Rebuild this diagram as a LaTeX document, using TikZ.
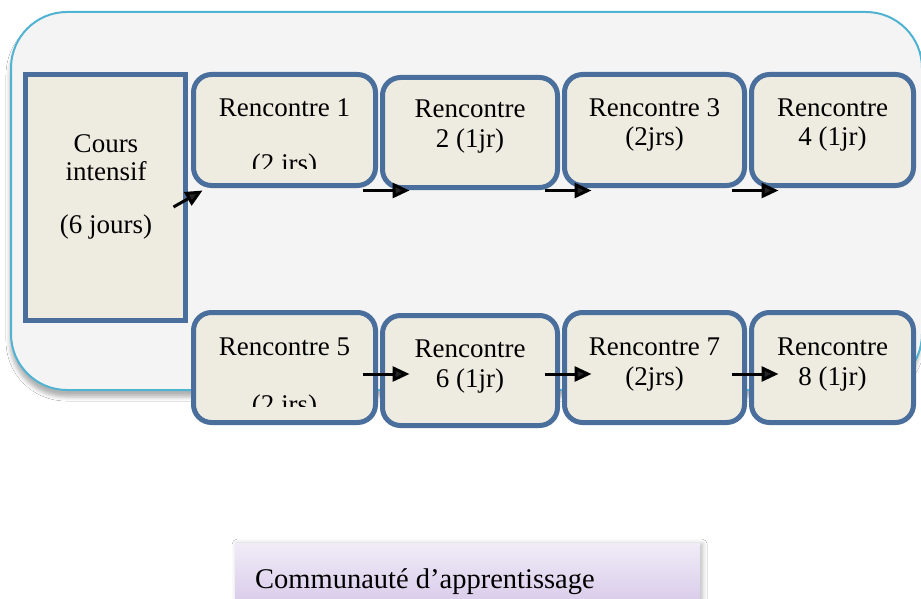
\documentclass[tikz,border=0pt]{standalone}
\usepackage{fontspec}
\setmainfont{Liberation Serif}
\usetikzlibrary{arrows.meta,shadows.blur}
\definecolor{frameblue}{HTML}{4A6F9C}
\definecolor{tanfill}{HTML}{EEECE1}
\definecolor{panelfill}{HTML}{F4F4F4}
\definecolor{panelline}{HTML}{4FB3D1}
\definecolor{lavtop}{HTML}{F0ECF7}
\definecolor{lavbot}{HTML}{D8C9EA}
\begin{document}
\begin{tikzpicture}[x=1pt,y=-1pt,
  stagebox/.style={draw=frameblue,fill=tanfill,line width=5pt,rounded corners=18pt,
    inner sep=0pt,minimum width=182pt,minimum height=111pt},
  lbl/.style={anchor=base,inner sep=0pt,font=\fontsize{27}{30}\selectfont},
  arr/.style={line width=3pt,-{Triangle[length=17pt,width=15pt]}}]
\useasboundingbox (0,0) rectangle (921,599);
\fill[white] (0,0) rectangle (921,599);

% background panel
\draw[panelline,fill=panelfill,line width=2pt,rounded corners=56pt,
  blur shadow={shadow xshift=-1pt,shadow yshift=-7pt,shadow blur radius=4pt,shadow opacity=30}]
  (11,12) rectangle (922,390);

% intensive course block
\node[draw=frameblue,fill=tanfill,line width=5pt,inner sep=0pt,
  minimum width=160pt,minimum height=246pt] (ci) at (105.5,197.5) {};

% meetings, first row
\node[stagebox] (r1) at (284.5,130) {};
\node[stagebox,minimum width=175pt,minimum height=110pt] (r2) at (470,132.5) {};
\node[stagebox,minimum width=180pt] (r3) at (654.5,130) {};
\node[stagebox,minimum width=162pt] (r4) at (832.5,130) {};
% meetings, second row
\node[stagebox,minimum height=110pt] (r5) at (284.5,367.5) {};
\node[stagebox,minimum width=175pt,minimum height=110pt] (r6) at (470,370.5) {};
\node[stagebox,minimum width=180pt,minimum height=110pt] (r7) at (654.5,367.5) {};
\node[stagebox,minimum width=162pt,minimum height=110pt] (r8) at (832.5,367.5) {};

% labels
\node[lbl] (ci1) at (106,153) {Cours};
\node[lbl] (ci2) at (106,180) {intensif};
\node[lbl] (ci3) at (106,233) {(6 jours)};

\node[lbl] (r1a) at (284.5,117) {Rencontre 1};
\begin{scope}
  \clip (195,140) rectangle (375,168);
  \node[lbl] (r1b) at (284.5,172) {(2 jrs)};
\end{scope}
\node[lbl] (r2a) at (470,118) {Rencontre};
\node[lbl] (r2b) at (470,148) {2 (1jr)};
\node[lbl] (r3a) at (654.5,117) {Rencontre 3};
\node[lbl] (r3b) at (654.5,146) {(2jrs)};
\node[lbl] (r4a) at (832.5,117) {Rencontre};
\node[lbl] (r4b) at (832.5,146) {4 (1jr)};

\node[lbl] (r5a) at (284.5,355) {Rencontre 5};
\begin{scope}
  \clip (195,380) rectangle (375,406);
  \node[lbl] (r5b) at (284.5,413) {(2 jrs)};
\end{scope}
\node[lbl] (r6a) at (470,357) {Rencontre};
\node[lbl] (r6b) at (470,387) {6 (1jr)};
\node[lbl] (r7a) at (654.5,355) {Rencontre 7};
\node[lbl] (r7b) at (654.5,385) {(2jrs)};
\node[lbl] (r8a) at (832.5,355) {Rencontre};
\node[lbl] (r8b) at (832.5,385) {8 (1jr)};

% arrows
\draw[arr] ([shift={(-14.5,9.5)}]ci.east) -- ([shift={(11.5,2.5)}]r1.south west);
\draw[arr] ([shift={(-15.5,2.5)}]r1.south east) -- ([shift={(29.5,0.5)}]r2.south west);
\draw[arr] ([shift={(-15.5,0.5)}]r2.south east) -- ([shift={(29.5,2.5)}]r3.south west);
\draw[arr] ([shift={(-15.5,2.5)}]r3.south east) -- ([shift={(29.5,2.5)}]r4.south west);
\draw[arr] ([shift={(-15.5,6.5)}]r5.east) -- ([shift={(29.5,3.5)}]r6.west);
\draw[arr] ([shift={(-15.5,3.5)}]r6.east) -- ([shift={(29.5,6.5)}]r7.west);
\draw[arr] ([shift={(-15.5,6.5)}]r7.east) -- ([shift={(29.5,6.5)}]r8.west);

% learning community banner
\node[top color=lavtop,bottom color=lavbot,inner sep=0pt,minimum width=465pt,
  minimum height=64pt,anchor=north west,
  blur shadow={shadow xshift=2pt,shadow yshift=-1pt,shadow blur radius=5pt,shadow opacity=30}]
  (cm) at (235,543) {};
\node[anchor=base west,inner sep=0pt,font=\fontsize{28.5}{32}\selectfont] (cmt)
  at (255,588) {Communauté d’apprentissage};
\end{tikzpicture}
\end{document}
